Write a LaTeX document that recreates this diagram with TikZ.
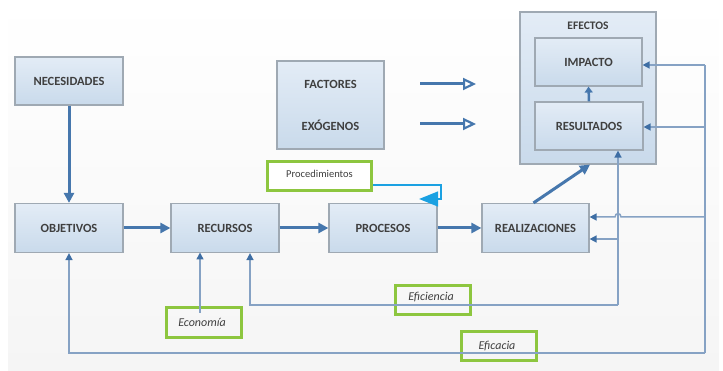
\documentclass[tikz,border=0pt]{standalone}
\usepackage{fontspec}
\setmainfont{Carlito}
\usetikzlibrary{arrows.meta,calc}
\definecolor{boxtop}{HTML}{E3ECF6}
\definecolor{boxbot}{HTML}{C9DAEB}
\definecolor{boxline}{HTML}{9FA9B3}
\definecolor{txt}{HTML}{3F3F3F}
\definecolor{thick}{HTML}{4677AD}
\definecolor{thin}{HTML}{86A2C4}
\definecolor{tipc}{HTML}{3E6EA4}
\definecolor{grn}{HTML}{8DC63F}
\definecolor{cyan1}{HTML}{1BA1E2}
\definecolor{bg}{HTML}{F5F5F5}
\tikzset{
  bx/.style={draw=boxline, line width=1.2pt, top color=boxtop, bottom color=boxbot,
    font=\fontsize{12.5}{14}\selectfont\bfseries, text=txt, inner sep=0pt},
  lbl/.style={font=\fontsize{12.5}{14}\selectfont\bfseries, text=txt, inner sep=0pt},
  gbox/.style={draw=grn, line width=3.2pt, inner sep=0pt},
  itl/.style={font=\fontsize{12}{14}\selectfont\itshape, text=txt, inner sep=0pt},
  thk/.style={draw=thick, line width=3pt, -{Triangle[length=10pt,width=10pt]}},
  fb/.style={draw=thin, line width=1.5pt, -{Triangle[length=7pt,width=7pt,color=tipc]}},
  fbl/.style={draw=thin, line width=1.5pt},
  opn/.style={draw=thick, line width=3pt, -{Triangle[open,length=13pt,width=12pt,line width=2.2pt,fill=white]}},
}
\begin{document}
\begin{tikzpicture}[x=1pt,y=-1pt]
\useasboundingbox (0,0) rectangle (723,371);
\shade[top color=white, bottom color=bg] (8,0) rectangle (719,371);

% boxes
\node[bx, minimum width=108pt, minimum height=48pt] (nec) at (69,81) {NECESIDADES};
\node[bx, minimum width=107pt, minimum height=88pt] (fact) at (330.5,105) {};
\node[lbl] (factA) at (330.5,84) {FACTORES};
\node[lbl] (factB) at (330.5,125) {EXÓGENOS};
\node[bx, minimum width=136pt, minimum height=152pt] (efe) at (588,88) {};
\node[lbl, font=\fontsize{11.5}{13}\selectfont\bfseries] (efeL) at (588,26) {EFECTOS};
\node[bx, minimum width=107pt, minimum height=48pt] (imp) at (588.5,62) {IMPACTO};
\node[bx, minimum width=108pt, minimum height=48pt] (res) at (589,126) {RESULTADOS};
\node[bx, minimum width=108pt, minimum height=49pt] (obj) at (69,228) {OBJETIVOS};
\node[bx, minimum width=108pt, minimum height=49pt] (rec) at (225,228) {RECURSOS};
\node[bx, minimum width=108pt, minimum height=49pt] (pro) at (383,228) {PROCESOS};
\node[bx, minimum width=107pt, minimum height=49pt] (rea) at (535.5,228) {REALIZACIONES};

% green label boxes
\node[gbox, fill=white, minimum width=104pt, minimum height=29pt] (proc) at (319.5,176) {};
\node[font=\fontsize{10.5}{12}\selectfont, text=txt, inner sep=0pt] (procT) at (319.5,174) {Procedimientos};
\node[gbox, minimum width=75pt, minimum height=30pt] (eco) at (204,322.5) {};
\node[gbox, minimum width=75pt, minimum height=29pt] (efi) at (433,300) {};
\node[gbox, minimum width=75pt, minimum height=29pt] (efa) at (499,346) {};

% main flow
\draw[thk] (nec.south) -- (obj.north);
\draw[thk] (obj.east) -- (rec.west);
\draw[thk] (rec.east) -- (pro.west);
\draw[thk] (pro.east) -- (rea.west);
\draw[thk] ([xshift=-2pt]rea.north) -- ([xshift=2pt]efe.south);
\draw[draw=thick, line width=2.5pt, -{Triangle[length=6pt,width=8pt]}] (res.north) -- (imp.south);

% factores arrows
\coordinate (fa1) at (420,84); \coordinate (fa2) at (476,84);
\coordinate (fb1) at (420,124); \coordinate (fb2) at (476,124);
\draw[opn] (fa1) -- (fa2);
\draw[opn] (fb1) -- (fb2);

% procedimientos blue connector
\draw[draw=cyan1, line width=1.5pt, -{Triangle[length=19pt,width=15pt]}]
  ([yshift=-9pt]proc.east) -- ++(68,0) -- ++(0,14) -- ++(-22,0);

% feedback buses
\coordinate (bR1) at (705,65);
\coordinate (bR2) at (705,127);
\coordinate (bR3) at (705,217);
\coordinate (bRb) at (705,353);
\coordinate (bLb) at (69,353);
\coordinate (eM) at (618,305);
\coordinate (eM2) at (618,239);
\coordinate (eL) at (250,305);

\draw[fbl] (bRb) -- (bR1);
\draw[fb] (bR1) -- (imp.east |- bR1);
\draw[fb] (bR2) -- (res.east |- bR2);
\draw[fb] (bR3) -- (621,217) .. controls (621,212.5) and (615,212.5) .. (615,217) -- (rea.east |- bR3);
\draw[fb] (bRb) -- (bLb) -- (obj.south);

\draw[fb] (eM) -- (res.south -| eM);
\draw[fb] (eM2) -- (rea.east |- eM2);
\draw[fb] (eM) -- (eL) -- (rec.south -| eL);
\draw[fb] (200,313) -- (200,252.5);

% italic labels
\node[itl] (ecoT) at (202,322) {Economía};
\node[itl] (efiT) at (431,297) {Eficiencia};
\node[itl] (efaT) at (497,346) {Eficacia};
\end{tikzpicture}
\end{document}
